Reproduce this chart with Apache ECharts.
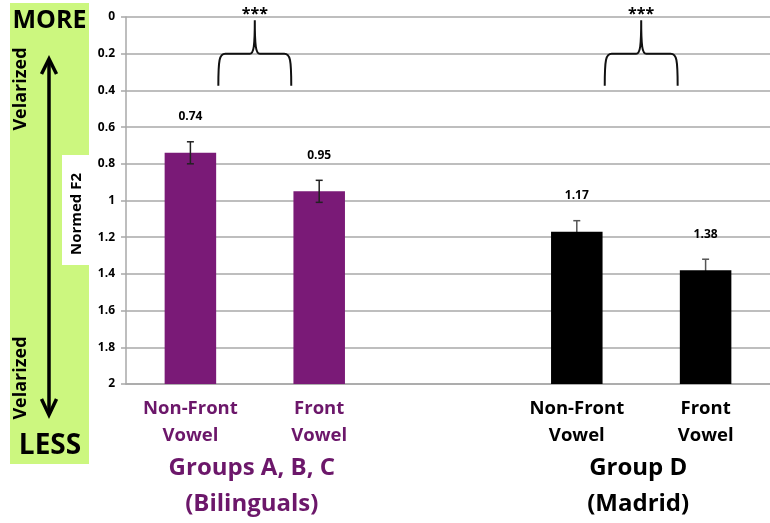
<!DOCTYPE html>
<html>
<head>
<meta charset="utf-8">
<script src="https://cdn.jsdelivr.net/npm/echarts@6/dist/echarts.min.js"></script>
<style>
html,body{margin:0;padding:0;background:#fff;}
#c{width:770px;height:523px;}
</style>
</head>
<body>
<div id="c"></div>
<script>
// ---- data ----
const categories = ['Non-Front\nVowel', 'Front\nVowel', '', 'Non-Front\nVowel', 'Front\nVowel'];
const values = [0.74, 0.95, null, 1.17, 1.38];
const errors = [0.06, 0.06, null, 0.06, 0.06];
const yTicks = { min: 0, max: 2, interval: 0.2 };
const groupNames = ['Groups A, B, C\n(Bilinguals)', 'Group D\n(Madrid)'];
const groupCats = [[0, 1], [3, 4]];
const significance = ['***', '***'];

// ---- styles ----
const PURPLE = '#7a1a77';
const PURPLE_TXT = '#6c176a';
const catColors = [PURPLE_TXT, PURPLE_TXT, '#000', '#000', '#000'];
const barColors = [PURPLE, PURPLE, '#000', '#000', '#000'];
const errColors = ['#222', '#222', '#000', '#555', '#555'];
const barOnTop = [false, false, false, true, true];
const groupColors = [PURPLE_TXT, '#000'];
const FONT = '"Open Sans"';
const W = 'bold';
const GRAY = '#a8a8a8';

const barData = [];
values.forEach((v, i) => { if (v != null) barData.push([i, v, errors[i]]); });
const braceData = groupCats.map((g, k) => [g[0], 0.2, g[1], k]);

const chart = echarts.init(document.getElementById('c'));

const option = {
  animation: false,
  backgroundColor: '#fff',
  grid: { left: 126, right: -9, top: 17, bottom: 139, containLabel: false },
  xAxis: {
    type: 'category',
    data: categories,
    axisLine: { onZero: false, lineStyle: { color: GRAY, width: 1.5 } },
    axisTick: { show: false },
    axisLabel: {
      interval: 0,
      margin: 11,
      fontFamily: 'Open Sans',
      fontWeight: W,
      fontSize: 18.5,
      lineHeight: 27,
      color: (val, idx) => catColors[idx]
    },
    splitLine: { show: false }
  },
  yAxis: {
    type: 'value',
    inverse: true,
    min: yTicks.min,
    max: yTicks.max,
    interval: yTicks.interval,
    axisLine: { show: true, lineStyle: { color: GRAY, width: 1.5 } },
    axisTick: { show: true, length: 5, lineStyle: { color: GRAY, width: 1.5 } },
    axisLabel: {
      margin: 11,
      fontFamily: 'Open Sans',
      fontWeight: W,
      fontSize: 12,
      color: '#000'
    },
    splitLine: { show: true, lineStyle: { color: GRAY, width: 1.5 } }
  },
  series: [
    {
      type: 'custom',
      data: barData,
      encode: { x: 0, y: 1 },
      renderItem: function (params, api) {
        const ci = api.value(0), v = api.value(1), e = api.value(2);
        const top = api.coord([ci, v]);
        const bot = api.coord([ci, yTicks.max]);
        const w = api.size([1, 0])[0] * 0.4;
        const eTop = api.coord([ci, v - e]);
        const eBot = api.coord([ci, v + e]);
        const cap = 3.5;
        const ec = errColors[ci];
        const rect = { type: 'rect', shape: { x: top[0] - w / 2, y: top[1], width: w, height: bot[1] - top[1] },
              style: { fill: barColors[ci] } };
        const errs = [
          { type: 'line', shape: { x1: top[0], y1: eTop[1], x2: top[0], y2: eBot[1] },
            style: { stroke: ec, lineWidth: 1.5 } },
          { type: 'line', shape: { x1: top[0] - cap, y1: eTop[1], x2: top[0] + cap, y2: eTop[1] },
            style: { stroke: ec, lineWidth: 1.5 } },
          { type: 'line', shape: { x1: top[0] - cap, y1: eBot[1], x2: top[0] + cap, y2: eBot[1] },
            style: { stroke: ec, lineWidth: 1.5 } }
        ];
        const label = { type: 'text', x: top[0], y: top[1] - 36,
              style: { text: v.toFixed(2), fill: '#000', font: W + ' 12px ' + FONT, align: 'center', verticalAlign: 'middle' } };
        const children = barOnTop[ci] ? errs.concat([rect, label]) : [rect].concat(errs, [label]);
        return { type: 'group', children: children };
      }
    },
    {
      type: 'custom',
      data: braceData,
      encode: { x: 0, y: 1 },
      renderItem: function (params, api) {
        const a = api.value(0), lvl = api.value(1), b = api.value(2), k = api.value(3);
        const pa = api.coord([a, lvl]);
        const pb = api.coord([b, lvl]);
        const xc = (pa[0] + pb[0]) / 2;
        const ym = pa[1];
        const yTip = api.coord([a, 0.018])[1];
        const yFoot = api.coord([a, 0.375])[1];
        const hw = api.size([1, 0])[0] * 0.283;
        const x1 = xc - hw, x2 = xc + hw;
        const path = 'M' + x1 + ' ' + yFoot +
          ' C' + x1 + ' ' + (ym + 6) + ' ' + (x1 + 1) + ' ' + ym + ' ' + (x1 + 7) + ' ' + ym +
          ' L' + (xc - 5) + ' ' + ym +
          ' C' + (xc - 1) + ' ' + ym + ' ' + xc + ' ' + (ym - 8) + ' ' + xc + ' ' + yTip +
          ' C' + xc + ' ' + (ym - 8) + ' ' + (xc + 1) + ' ' + ym + ' ' + (xc + 5) + ' ' + ym +
          ' L' + (x2 - 7) + ' ' + ym +
          ' C' + (x2 - 1) + ' ' + ym + ' ' + x2 + ' ' + (ym + 6) + ' ' + x2 + ' ' + yFoot;
        const y0 = api.coord([a, yTicks.min])[1];
        return {
          type: 'group',
          children: [
            { type: 'path', shape: { pathData: path }, style: { fill: null, stroke: '#111', lineWidth: 2 } },
            { type: 'text', x: xc, y: y0 - 3,
              style: { text: significance[k], fill: '#000', font: W + ' 16px ' + FONT, align: 'center', verticalAlign: 'middle' } }
          ]
        };
      }
    }
  ]
};

chart.setOption(option);

// decorations + group labels
const graphics = [
  { type: 'rect', shape: { x: 10, y: 3, width: 79, height: 461 }, style: { fill: '#ccf77f' }, z: 0 },
  { type: 'text', x: 49.5, y: 21, style: { text: 'MORE', font: W + ' 25px ' + FONT, fill: '#000', align: 'center', verticalAlign: 'middle' } },
  { type: 'text', x: 50, y: 446, style: { text: 'LESS', font: W + ' 28px ' + FONT, fill: '#000', align: 'center', verticalAlign: 'middle' } },
  { type: 'text', x: 21, y: 89, rotation: Math.PI / 2, style: { text: 'Velarized', font: W + ' 18px ' + FONT, fill: '#000', align: 'center', verticalAlign: 'middle' } },
  { type: 'text', x: 21, y: 378, rotation: Math.PI / 2, style: { text: 'Velarized', font: W + ' 18px ' + FONT, fill: '#000', align: 'center', verticalAlign: 'middle' } },
  { type: 'line', shape: { x1: 49, y1: 60, x2: 49, y2: 414 }, style: { stroke: '#000', lineWidth: 3.5 } },
  { type: 'polyline', shape: { points: [[41.5, 74], [49, 59], [56.5, 74]] }, style: { stroke: '#000', lineWidth: 3.5, fill: null } },
  { type: 'polyline', shape: { points: [[41.5, 399], [49, 415], [56.5, 399]] }, style: { stroke: '#000', lineWidth: 3.5, fill: null } },
  { type: 'rect', shape: { x: 62, y: 155, width: 28, height: 110 }, style: { fill: '#fff' } },
  { type: 'text', x: 76.5, y: 214, rotation: Math.PI / 2, style: { text: 'Normed F2', font: W + ' 15px ' + FONT, fill: '#000', align: 'center', verticalAlign: 'middle' } }
];
groupNames.forEach((name, k) => {
  const pa = chart.convertToPixel({ gridIndex: 0 }, [groupCats[k][0], yTicks.max]);
  const pb = chart.convertToPixel({ gridIndex: 0 }, [groupCats[k][1], yTicks.max]);
  graphics.push({
    type: 'text', x: (pa[0] + pb[0]) / 2 - 3, y: pa[1] + 102,
    style: { text: name, font: W + ' 24px ' + FONT, lineHeight: 36, fill: groupColors[k], align: 'center', verticalAlign: 'middle' }
  });
});
chart.setOption({ graphic: graphics });
</script>
</body>
</html>
